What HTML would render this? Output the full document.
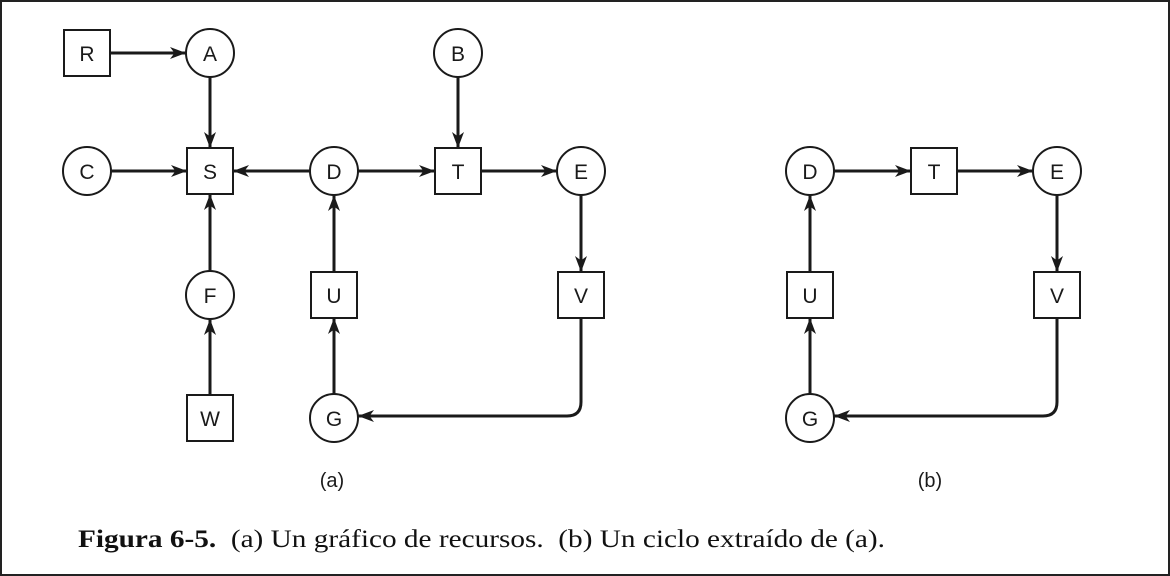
<!DOCTYPE html>
<html><head><meta charset="utf-8"><style>
html,body{margin:0;padding:0;background:#fff;}
svg{display:block;}
</style></head><body>
<svg width="1170" height="576" viewBox="0 0 1170 576" xmlns="http://www.w3.org/2000/svg">
<defs>
<marker id="ah" markerUnits="userSpaceOnUse" markerWidth="18" markerHeight="14" refX="16" refY="7" orient="auto">
<path d="M0,1 L16,7 L0,13 L4.5,7 z" fill="#1a1a1a"/>
</marker>
</defs>
<rect x="1" y="1" width="1168" height="574" fill="#fff" stroke="#222" stroke-width="2"/>
<g fill="#fff" stroke="#1a1a1a" stroke-width="2">
<rect x="64" y="30" width="46" height="46"/>
<circle cx="210" cy="53" r="24"/>
<circle cx="458" cy="53" r="24"/>
<circle cx="87" cy="171" r="24"/>
<rect x="187" y="148" width="46" height="46"/>
<circle cx="334" cy="171" r="24"/>
<rect x="435" y="148" width="46" height="46"/>
<circle cx="581" cy="171" r="24"/>
<circle cx="210" cy="295" r="24"/>
<rect x="311" y="272" width="46" height="46"/>
<rect x="558" y="272" width="46" height="46"/>
<rect x="187" y="395" width="46" height="46"/>
<circle cx="334" cy="418" r="24"/>
<circle cx="810" cy="171" r="24"/>
<rect x="911" y="148" width="46" height="46"/>
<circle cx="1057" cy="171" r="24"/>
<rect x="787" y="272" width="46" height="46"/>
<rect x="1034" y="272" width="46" height="46"/>
<circle cx="810" cy="418" r="24"/>
</g>
<g fill="none" stroke="#1a1a1a" stroke-width="3" marker-end="url(#ah)">
<path d="M110,53 H186"/>
<path d="M210,77 V148"/>
<path d="M111,171 H187"/>
<path d="M310,171 H233"/>
<path d="M358,171 H435"/>
<path d="M458,77 V148"/>
<path d="M481,171 H557"/>
<path d="M581,195 V272"/>
<path d="M210,271 V194"/>
<path d="M210,395 V319"/>
<path d="M334,272 V195"/>
<path d="M334,394 V318"/>
<path d="M581,318 V402 Q581,416 567,416 H358"/>
<path d="M834,171 H911"/>
<path d="M957,171 H1033"/>
<path d="M1057,195 V272"/>
<path d="M810,272 V195"/>
<path d="M810,394 V318"/>
<path d="M1057,318 V402 Q1057,416 1043,416 H834"/>
</g>
<g font-family="Liberation Sans, sans-serif" font-size="21" fill="#1a1a1a" text-anchor="middle">
<text x="87" y="61">R</text>
<text x="210" y="61">A</text>
<text x="458" y="61">B</text>
<text x="87" y="179">C</text>
<text x="210" y="179">S</text>
<text x="334" y="179">D</text>
<text x="458" y="179">T</text>
<text x="581" y="179">E</text>
<text x="210" y="303">F</text>
<text x="334" y="303">U</text>
<text x="581" y="303">V</text>
<text x="210" y="426">W</text>
<text x="334" y="426">G</text>
<text x="810" y="179">D</text>
<text x="934" y="179">T</text>
<text x="1057" y="179">E</text>
<text x="810" y="303">U</text>
<text x="1057" y="303">V</text>
<text x="810" y="426">G</text>
<text x="332" y="487" font-size="20">(a)</text>
<text x="930" y="487" font-size="20">(b)</text>
</g>
<text x="78" y="547" xml:space="preserve" textLength="807" lengthAdjust="spacingAndGlyphs" font-family="Liberation Serif, serif" font-size="25" fill="#111"><tspan font-weight="bold">Figura 6-5.</tspan>  (a) Un gráfico de recursos.  (b) Un ciclo extraído de (a).</text>
</svg>
</body></html>
